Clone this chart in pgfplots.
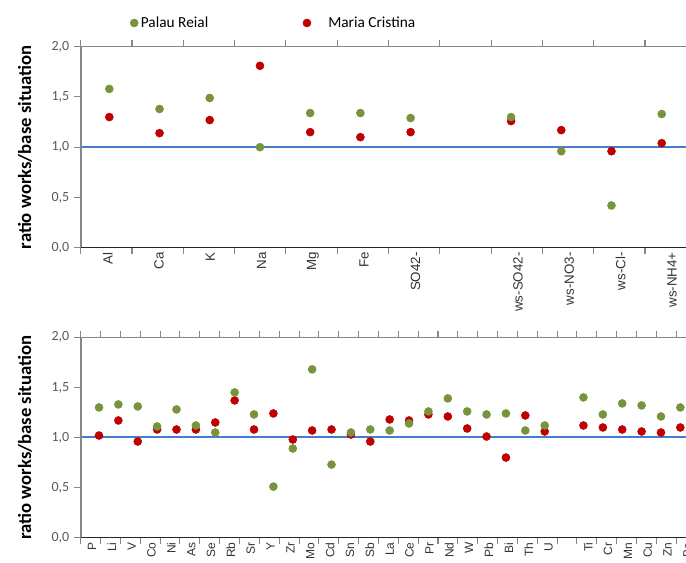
\documentclass[border=0pt]{standalone}
\usepackage{fontspec}
\setmainfont{Carlito}
\newfontfamily\arialf{Liberation Sans}
\usepackage{pgfplots}
\pgfplotsset{compat=1.18}
\usepackage{pgfplotstable}
\definecolor{pgreen}{HTML}{77933C}
\definecolor{mred}{HTML}{C00000}
\definecolor{refblue}{RGB}{70,125,200}
\definecolor{axgray}{HTML}{868686}
\definecolor{tickgray}{HTML}{595959}

\pgfplotstableread{
i green red
0 1.58 1.30
1 1.38 1.14
2 1.49 1.27
3 1.00 1.81
4 1.34 1.15
5 1.34 1.10
6 1.29 1.15
8 1.30 1.26
9 0.96 1.17
10 0.42 0.96
11 1.33 1.04
}\toptable

\pgfplotstableread{
i green red
0 1.30 1.02
1 1.33 1.17
2 1.31 0.96
3 1.11 1.08
4 1.28 1.08
5 1.12 1.08
6 1.05 1.15
7 1.45 1.37
8 1.23 1.08
9 0.51 1.24
10 0.89 0.98
11 1.68 1.07
12 0.73 1.08
13 1.05 1.03
14 1.08 0.96
15 1.07 1.18
16 1.14 1.17
17 1.26 1.23
18 1.39 1.21
19 1.26 1.09
20 1.23 1.01
21 1.24 0.80
22 1.07 1.22
23 1.12 1.06
25 1.40 1.12
26 1.23 1.10
27 1.34 1.08
28 1.32 1.06
29 1.21 1.05
30 1.30 1.10
}\bottable

\pgfplotsset{
  catax/.style={
    scale only axis, anchor=south west,
    ymin=0, ymax=2,
    clip mode=individual,
    axis line style={draw=none},
    tick align=outside,
    major tick length=5pt,
    tick style={axgray, line width=0.8pt},
    ytick={0,0.5,1,1.5,2},
    yticklabel style={font=\fontsize{10.5}{12}\selectfont, text=tickgray},
    /pgf/number format/.cd, assume math mode=true, use comma, fixed, fixed zerofill, precision=1,
    /pgfplots/.cd,
    xticklabels={},
    extra x tick style={major tick length=0pt},
    extra x tick labels={},
    ylabel={ratio works/base situation},
    ylabel style={at={(axis description cs:-0.0905,0.5)}, anchor=center,
      font=\fontsize{14}{16}\selectfont\bfseries},
  },
  dotax/.style={
    scale only axis, anchor=south west, hide axis,
    ymin=0, ymax=2, clip=false,
  },
}

\begin{document}
\begin{tikzpicture}
\useasboundingbox (0,0) rectangle (514.5pt,-422.25pt);
\clip (0,0) rectangle (514.5pt,-422.25pt);

% ---------- top chart: frame, ticks, labels ----------
\begin{axis}[catax,
  at={(60.53pt,-185.78pt)}, width=461.7pt, height=150.75pt,
  xmin=-0.5, xmax=11.5,
  xtick={-0.5,0.5,...,11.5},
  extra x ticks={0,1,2,3,4,5,6,8,9,10,11},
  extra x tick labels={Al,Ca,K,Na,Mg,Fe,SO42-,ws-SO42-,ws-NO3-,ws-Cl-,ws-NH4+},
  extra x tick style={xticklabel style={rotate=90, anchor=east, yshift=-1pt,
     font=\arialf\fontsize{10}{12}\selectfont, text=black!80}},
]
\addplot[mark=none, draw=refblue, line width=1.1pt] coordinates {(-1,1) (13,1)};
\draw[axgray, line width=1.5pt] (rel axis cs:0,0) -- (rel axis cs:0,1);
\draw[axgray, line width=0.8pt] (rel axis cs:0,1) -- (rel axis cs:1,1);
\draw[black!85, line width=1.1pt] (rel axis cs:0,0) -- (rel axis cs:1,0);
\end{axis}

% ---------- top chart: points ----------
\begin{axis}[dotax,
  at={(60.53pt,-185.78pt)}, width=461.7pt, height=150.75pt,
  xmin=-0.5695, xmax=11.689,
  reverse legend,
  legend columns=2,
  legend style={draw=none, fill=none, at={(axis description cs:0.0735,1.118)}, anchor=west,
    font=\fontsize{11.5}{13}\selectfont,
    /tikz/every even column/.append style={column sep=69pt}},
  legend image code/.code={\draw[#1] plot coordinates {(0pt,0pt)};},
]
\addplot[only marks, mark=*, mark size=3pt, color=mred, mark options={draw=mred, fill=mred}] table[x=i, y=red] {\toptable};
\addlegendentry{\hspace{11pt}Maria Cristina}
\addplot[only marks, mark=*, mark size=3pt, color=pgreen, mark options={draw=pgreen, fill=pgreen}] table[x=i, y=green] {\toptable};
\addlegendentry{Palau Reial}
\end{axis}

% ---------- bottom chart: frame, ticks, labels ----------
\begin{axis}[catax,
  at={(60.53pt,-403.28pt)}, width=461.5pt, height=150.3pt,
  xmin=-0.5, xmax=30.5,
  xtick={-0.5,0.5,...,30.5},
  extra x ticks={0,1,...,23,25,26,...,30},
  extra x tick labels={P,Li,V,Co,Ni,As,Se,Rb,Sr,Y,Zr,Mo,Cd,Sn,Sb,La,Ce,Pr,Nd,W,Pb,Bi,Th,U,Ti,Cr,Mn,Cu,Zn,Ba},
  extra x tick style={xticklabel style={rotate=90, anchor=east, yshift=-1pt,
     font=\arialf\fontsize{9}{11}\selectfont, text=black!80}},
]
\addplot[mark=none, draw=refblue, line width=1.3pt] coordinates {(-1,1.002) (32,1.002)};
\draw[axgray, line width=1.5pt] (rel axis cs:0,0) -- (rel axis cs:0,1);
\draw[axgray, line width=0.8pt] (rel axis cs:0,1) -- (rel axis cs:1,1);
\draw[black!85, line width=1.1pt] (rel axis cs:0,0) -- (rel axis cs:1,0);
\end{axis}

% ---------- bottom chart: points ----------
\begin{axis}[dotax,
  at={(60.53pt,-403.28pt)}, width=461.5pt, height=150.3pt,
  xmin=-0.944, xmax=30.81,
]
\addplot[only marks, mark=*, mark size=3pt, color=mred, mark options={draw=mred, fill=mred}] table[x=i, y=red] {\bottable};
\addplot[only marks, mark=*, mark size=3pt, color=pgreen, mark options={draw=pgreen, fill=pgreen}] table[x=i, y=green] {\bottable};
\end{axis}
\end{tikzpicture}
\end{document}
